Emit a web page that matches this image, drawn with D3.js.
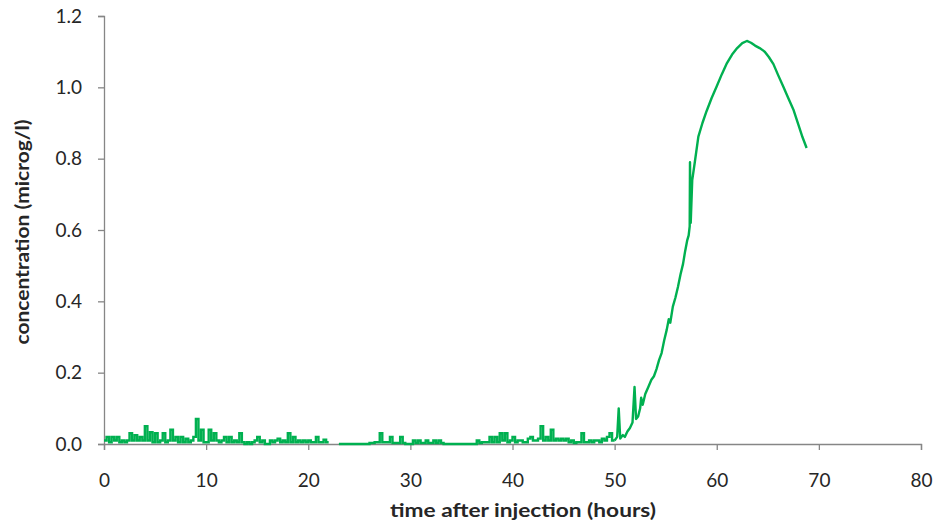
<!DOCTYPE html>
<html>
<head>
<meta charset="utf-8">
<script src="https://cdn.jsdelivr.net/npm/d3@7"></script>
<style>
  body { margin: 0; background: #fff; }
  text { font-family: Lato, "Open Sans", sans-serif; fill: #262626; }
</style>
</head>
<body>
<div id="chart"></div>
<script>
// readings during the first 50 h, one every 0.25 h (null = missing reading)
var baseStep = 0.25;
var baseValues = [
  0.01, 0.02, 0.005, 0.02, 0.01, 0.02, 0.005, 0.01, 0.005, 0.01, 0.03, 0.01, 0.025, 0.01, 0.02, 0.01, 0.05, 0.01, 0.033, 0.005,
  0.03, 0.005, 0.01, 0.03, 0.005, 0.01, 0.04, 0.01, 0.02, 0.005, 0.02, 0.005, 0.015, 0.005, 0.01, 0.02, 0.07, 0.01, 0.04, 0.005,
  0.005, 0.04, 0.01, 0.03, 0.01, 0.005, 0.01, 0.02, 0.005, 0.02, 0.005, 0.01, 0.005, 0.03, 0.005, 0, 0.005, 0, 0.005, 0.01,
  0.02, 0.005, 0.01, 0, 0, 0.01, 0.005, 0.01, 0.015, 0.005, 0.01, 0.005, 0.03, 0.005, 0.02, 0.005, 0.01, 0.005, 0.01, 0.005,
  0.01, 0.005, 0.005, 0.02, 0.005, 0.005, 0.012, 0.005, 0.005, null, null, null, 0, 0, 0, 0, 0, 0, 0, 0,
  0, 0, 0, 0, 0.003, 0.003, 0.005, 0.005, 0.03, 0.005, 0.005, 0.005, 0.02, 0.003, 0.003, 0.003, 0.02, 0.003, 0, 0,
  0, 0.01, 0.003, 0.01, 0.003, 0.003, 0.01, 0.003, 0.003, 0.01, 0.003, 0.01, 0.003, 0, 0, 0, 0, 0, 0, 0,
  0, 0, 0, 0, 0, 0, 0.01, 0.003, 0.005, 0.005, 0.005, 0.02, 0.005, 0.02, 0.005, 0.03, 0.01, 0.03, 0.005, 0.01,
  0.02, 0.005, 0.01, 0.01, 0.005, 0.005, 0.015, 0.02, 0.01, 0.01, 0.015, 0.05, 0.01, 0.02, 0.01, 0.04, 0.01, 0.015, 0.01, 0.015,
  0.01, 0.015, 0.005, 0.01, 0.003, 0.005, 0.005, 0.03, 0.005, 0.005, 0.01, 0.005, 0.01, 0.01, 0.005, 0.015, 0.01, 0.02, 0.03, 0.01
];

// breakthrough part, 50 h onwards
var riseTimes = [50.0, 50.25, 50.4, 50.55, 50.8, 51.0, 51.25, 51.5, 51.75, 51.95, 52.1, 52.3, 52.5, 52.6, 52.75, 53.0, 53.3, 53.6, 53.85,
  54.1, 54.35, 54.6, 54.85, 55.1, 55.3, 55.45, 55.7, 55.95, 56.2, 56.45, 56.7, 56.9, 57.1, 57.25, 57.35, 57.38, 57.45, 57.6, 57.85,
  58.2, 58.6, 59.0, 59.5, 60.0, 60.5, 61.0, 61.5, 62.0, 62.5, 62.95, 63.35, 63.75, 64.2, 64.7, 65.1, 65.55, 66.0, 66.5, 67.0, 67.5,
  68.0, 68.4, 68.8];
var riseValues = [0.01, 0.02, 0.1, 0.015, 0.025, 0.02, 0.035, 0.045, 0.06, 0.16, 0.07, 0.077, 0.1, 0.13, 0.11, 0.14, 0.16, 0.18, 0.19,
  0.21, 0.235, 0.255, 0.29, 0.32, 0.35, 0.34, 0.385, 0.41, 0.44, 0.475, 0.505, 0.54, 0.57, 0.585, 0.61, 0.79, 0.62, 0.74, 0.79,
  0.862, 0.9, 0.933, 0.97, 1.003, 1.037, 1.068, 1.092, 1.11, 1.124, 1.13, 1.125, 1.117, 1.11, 1.1, 1.085, 1.065, 1.035, 1.003, 0.97, 0.938,
  0.895, 0.86, 0.83];

var xTicks = [0, 10, 20, 30, 40, 50, 60, 70, 80];
var yTicks = [0, 0.2, 0.4, 0.6, 0.8, 1.0, 1.2];

var baseData = baseValues.map(function(v, i) { return { t: i * baseStep, c: v }; });
var riseData = riseTimes.map(function(t, i) { return { t: t, c: riseValues[i] }; });

var W = 935, H = 523;
var margin = { top: 16, right: 14, bottom: 79, left: 104 };
var width = W - margin.left - margin.right,
    height = H - margin.top - margin.bottom;

var svg = d3.select("#chart").append("svg")
    .attr("width", W)
    .attr("height", H);

var g = svg.append("g")
    .attr("transform", "translate(" + margin.left + "," + margin.top + ")");

var x = d3.scaleLinear().domain([0, 80]).range([0, width]);
var y = d3.scaleLinear().domain([0, 1.2]).range([height, 0]);

var xAxis = d3.axisBottom(x).tickValues(xTicks).tickSize(6).tickPadding(24).tickFormat(d3.format("d"));
var yAxis = d3.axisLeft(y).tickValues(yTicks).tickSize(6).tickPadding(16).tickFormat(d3.format(".1f"));

var gx = g.append("g").attr("transform", "translate(0," + height + ")").call(xAxis);
var gy = g.append("g").call(yAxis);

[gx, gy].forEach(function(a) {
  a.select(".domain").attr("stroke", "#868686").attr("stroke-width", 1.3);
  a.selectAll(".tick line").attr("stroke", "#868686").attr("stroke-width", 1.3);
  a.selectAll(".tick text").attr("font-size", "19px").attr("font-family", "Lato, sans-serif").attr("fill", "#262626");
});

// baseline readings look like narrow pulses
var stepLine = d3.line()
    .defined(function(d) { return d.c !== null; })
    .curve(d3.curveStepAfter)
    .x(function(d) { return x(d.t); })
    .y(function(d) { return y(d.c); });

var line = d3.line()
    .x(function(d) { return x(d.t); })
    .y(function(d) { return y(d.c); });

g.append("path")
    .datum(baseData.concat([riseData[0]]))
    .attr("fill", "none")
    .attr("stroke", "#00b050")
    .attr("stroke-width", 2.4)
    .attr("d", stepLine);

g.append("path")
    .datum(riseData)
    .attr("fill", "none")
    .attr("stroke", "#00b050")
    .attr("stroke-width", 2.4)
    .attr("stroke-linejoin", "round")
    .attr("d", line);

// axis titles
svg.append("text")
    .attr("x", 523)
    .attr("y", 517)
    .attr("text-anchor", "middle")
    .attr("font-size", "19px")
    .attr("font-weight", "bold")
    .attr("textLength", 266)
    .attr("lengthAdjust", "spacingAndGlyphs")
    .text("time after injection (hours)");

svg.append("text")
    .attr("transform", "translate(29,232) rotate(-90)")
    .attr("text-anchor", "middle")
    .attr("font-size", "19px")
    .attr("font-weight", "bold")
    .attr("textLength", 225)
    .attr("lengthAdjust", "spacingAndGlyphs")
    .text("concentration (microg/l)");
</script>
</body>
</html>
